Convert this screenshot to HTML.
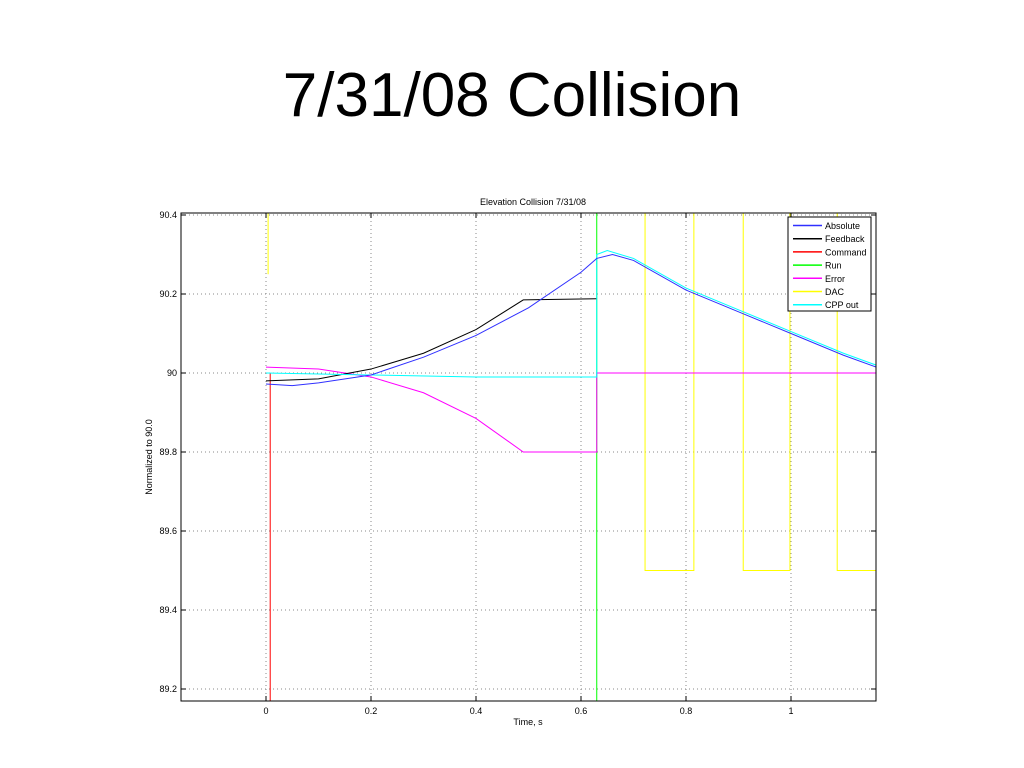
<!DOCTYPE html>
<html><head><meta charset="utf-8"><style>
body{margin:0;background:#fff;width:1024px;height:768px;overflow:hidden;font-family:"Liberation Sans",sans-serif}
</style></head><body>
<div style="position:absolute;left:0;width:1024px;top:60px;text-align:center;font-size:62px;color:#000">7/31/08 Collision</div>
<svg id="chart" width="1024" height="768" style="position:absolute;left:0;top:0" font-family="Liberation Sans, sans-serif"></svg>
<script>
const xTicks=[0,0.2,0.4,0.6,0.8,1];
const xTickLabels=["0","0.2","0.4","0.6","0.8","1"];
const yTicks=[89.2,89.4,89.6,89.8,90,90.2,90.4];
const yTickLabels=["89.2","89.4","89.6","89.8","90","90.2","90.4"];
const absoluteT=[0,0.05,0.1,0.2,0.3,0.4,0.5,0.6,0.63,0.66,0.7,0.8,0.9,1.0,1.1,1.162];
const absoluteV=[89.972,89.968,89.975,89.995,90.04,90.095,90.165,90.255,90.29,90.3,90.285,90.21,90.155,90.1,90.045,90.015];
const feedbackT=[0,0.1,0.2,0.3,0.4,0.49,0.63];
const feedbackV=[89.98,89.985,90.01,90.05,90.11,90.185,90.188];
const commandT=[0.008,0.008];
const commandV=[90,89.1];
const runT=[0.63,0.63];
const runV=[90.5,89.1];
const errorT=[0,0.1,0.2,0.3,0.4,0.49,0.63,0.63,1.162];
const errorV=[90.015,90.01,89.99,89.95,89.885,89.8,89.8,90,90];
const dacT1=[0.004,0.004];
const dacV1=[90.45,90.25];
const dacT=[0.722,0.722,0.815,0.815,0.909,0.909,0.998,0.998,1.088,1.088,1.162];
const dacV=[90.5,89.5,89.5,90.5,90.5,89.5,89.5,90.5,90.5,89.5,89.5];
const cppT=[0,0.2,0.4,0.63,0.63,0.65,0.7,0.8,0.9,1.0,1.1,1.162];
const cppV=[90,89.995,89.99,89.99,90.3,90.31,90.29,90.215,90.16,90.105,90.05,90.02];

const L=181,R=876,T=213,B=701;
const xs=t=>266+t*525;
const ys=v=>373-(v-90)*395;
const svg=document.getElementById('chart');
const NS='http://www.w3.org/2000/svg';
function mk(tag,attrs){const e=document.createElementNS(NS,tag);for(const k in attrs)e.setAttribute(k,attrs[k]);svg.appendChild(e);return e;}
const cp=document.createElementNS(NS,'clipPath');cp.setAttribute('id','clip');
const cr=document.createElementNS(NS,'rect');cr.setAttribute('x',L);cr.setAttribute('y',T);cr.setAttribute('width',R-L);cr.setAttribute('height',B-T);cp.appendChild(cr);svg.appendChild(cp);
xTicks.forEach((t,i)=>{
 const g=mk('line',{x1:xs(t),x2:xs(t),y1:T,y2:B,stroke:'#888','stroke-dasharray':'1,3','stroke-width':1});
 
 const tx=mk('text',{x:xs(t),y:B+13,'font-size':9,'text-anchor':'middle',fill:'#000'});tx.textContent=xTickLabels[i];
 
 mk('line',{x1:xs(t),x2:xs(t),y1:B,y2:B-5,stroke:'#000'});mk('line',{x1:xs(t),x2:xs(t),y1:T,y2:T+5,stroke:'#000'});
});
yTicks.forEach((v,i)=>{
 const g=mk('line',{x1:L,x2:R,y1:ys(v),y2:ys(v),stroke:'#888','stroke-dasharray':'1,3','stroke-width':1});
 
 const tx=mk('text',{x:L-4,y:ys(v)+3,'font-size':9,'text-anchor':'end',fill:'#000'});tx.textContent=yTickLabels[i];
 
 mk('line',{x1:L,x2:L+5,y1:ys(v),y2:ys(v),stroke:'#000'});mk('line',{x1:R,x2:R-5,y1:ys(v),y2:ys(v),stroke:'#000'});
});
function series(ts,vs,color,name){
 const p=mk('polyline',{points:ts.map((t,i)=>xs(t)+','+ys(vs[i])).join(' '),fill:'none',stroke:color,'stroke-width':1,'clip-path':'url(#clip)'});
 
}
series(dacT1,dacV1,'#ffff00','dac-line-start');
series(dacT,dacV,'#ffff00','dac-line');
series(commandT,commandV,'#ff0000','command-line');
series(runT,runV,'#00ff00','run-line');
series(errorT,errorV,'#ff00ff','error-line');
series(feedbackT,feedbackV,'#000000','feedback-line');
series(cppT,cppV,'#00ffff','cpp-out-line');
series(absoluteT,absoluteV,'#3030ff','absolute-line');
const box=mk('rect',{x:L,y:T,width:R-L,height:B-T,fill:'none',stroke:'#000'});

const ti=mk('text',{x:533,y:205,'font-size':9,'text-anchor':'middle'});ti.textContent='Elevation Collision 7/31/08';

const xl=mk('text',{x:528,y:725,'font-size':9,'text-anchor':'middle'});xl.textContent='Time, s';

const yl=mk('text',{x:0,y:0,'font-size':9,'text-anchor':'middle',transform:'translate(152,457) rotate(-90)'});yl.textContent='Normalized to 90.0';

const lg=mk('rect',{x:788,y:217,width:83,height:94,fill:'#fff',stroke:'#000'});

const legNames=['Absolute','Feedback','Command','Run','Error','DAC','CPP out'];
const legColors=['#3030ff','#000000','#ff0000','#00ff00','#ff00ff','#ffff00','#00ffff'];
legNames.forEach((n,i)=>{
 const y=225.5+i*13.2;
 mk('line',{x1:793,x2:822,y1:y,y2:y,stroke:legColors[i],'stroke-width':1.5});
 const t=mk('text',{x:825,y:y+3.5,'font-size':9});t.textContent=n;
 
});
</script>
</body></html>
